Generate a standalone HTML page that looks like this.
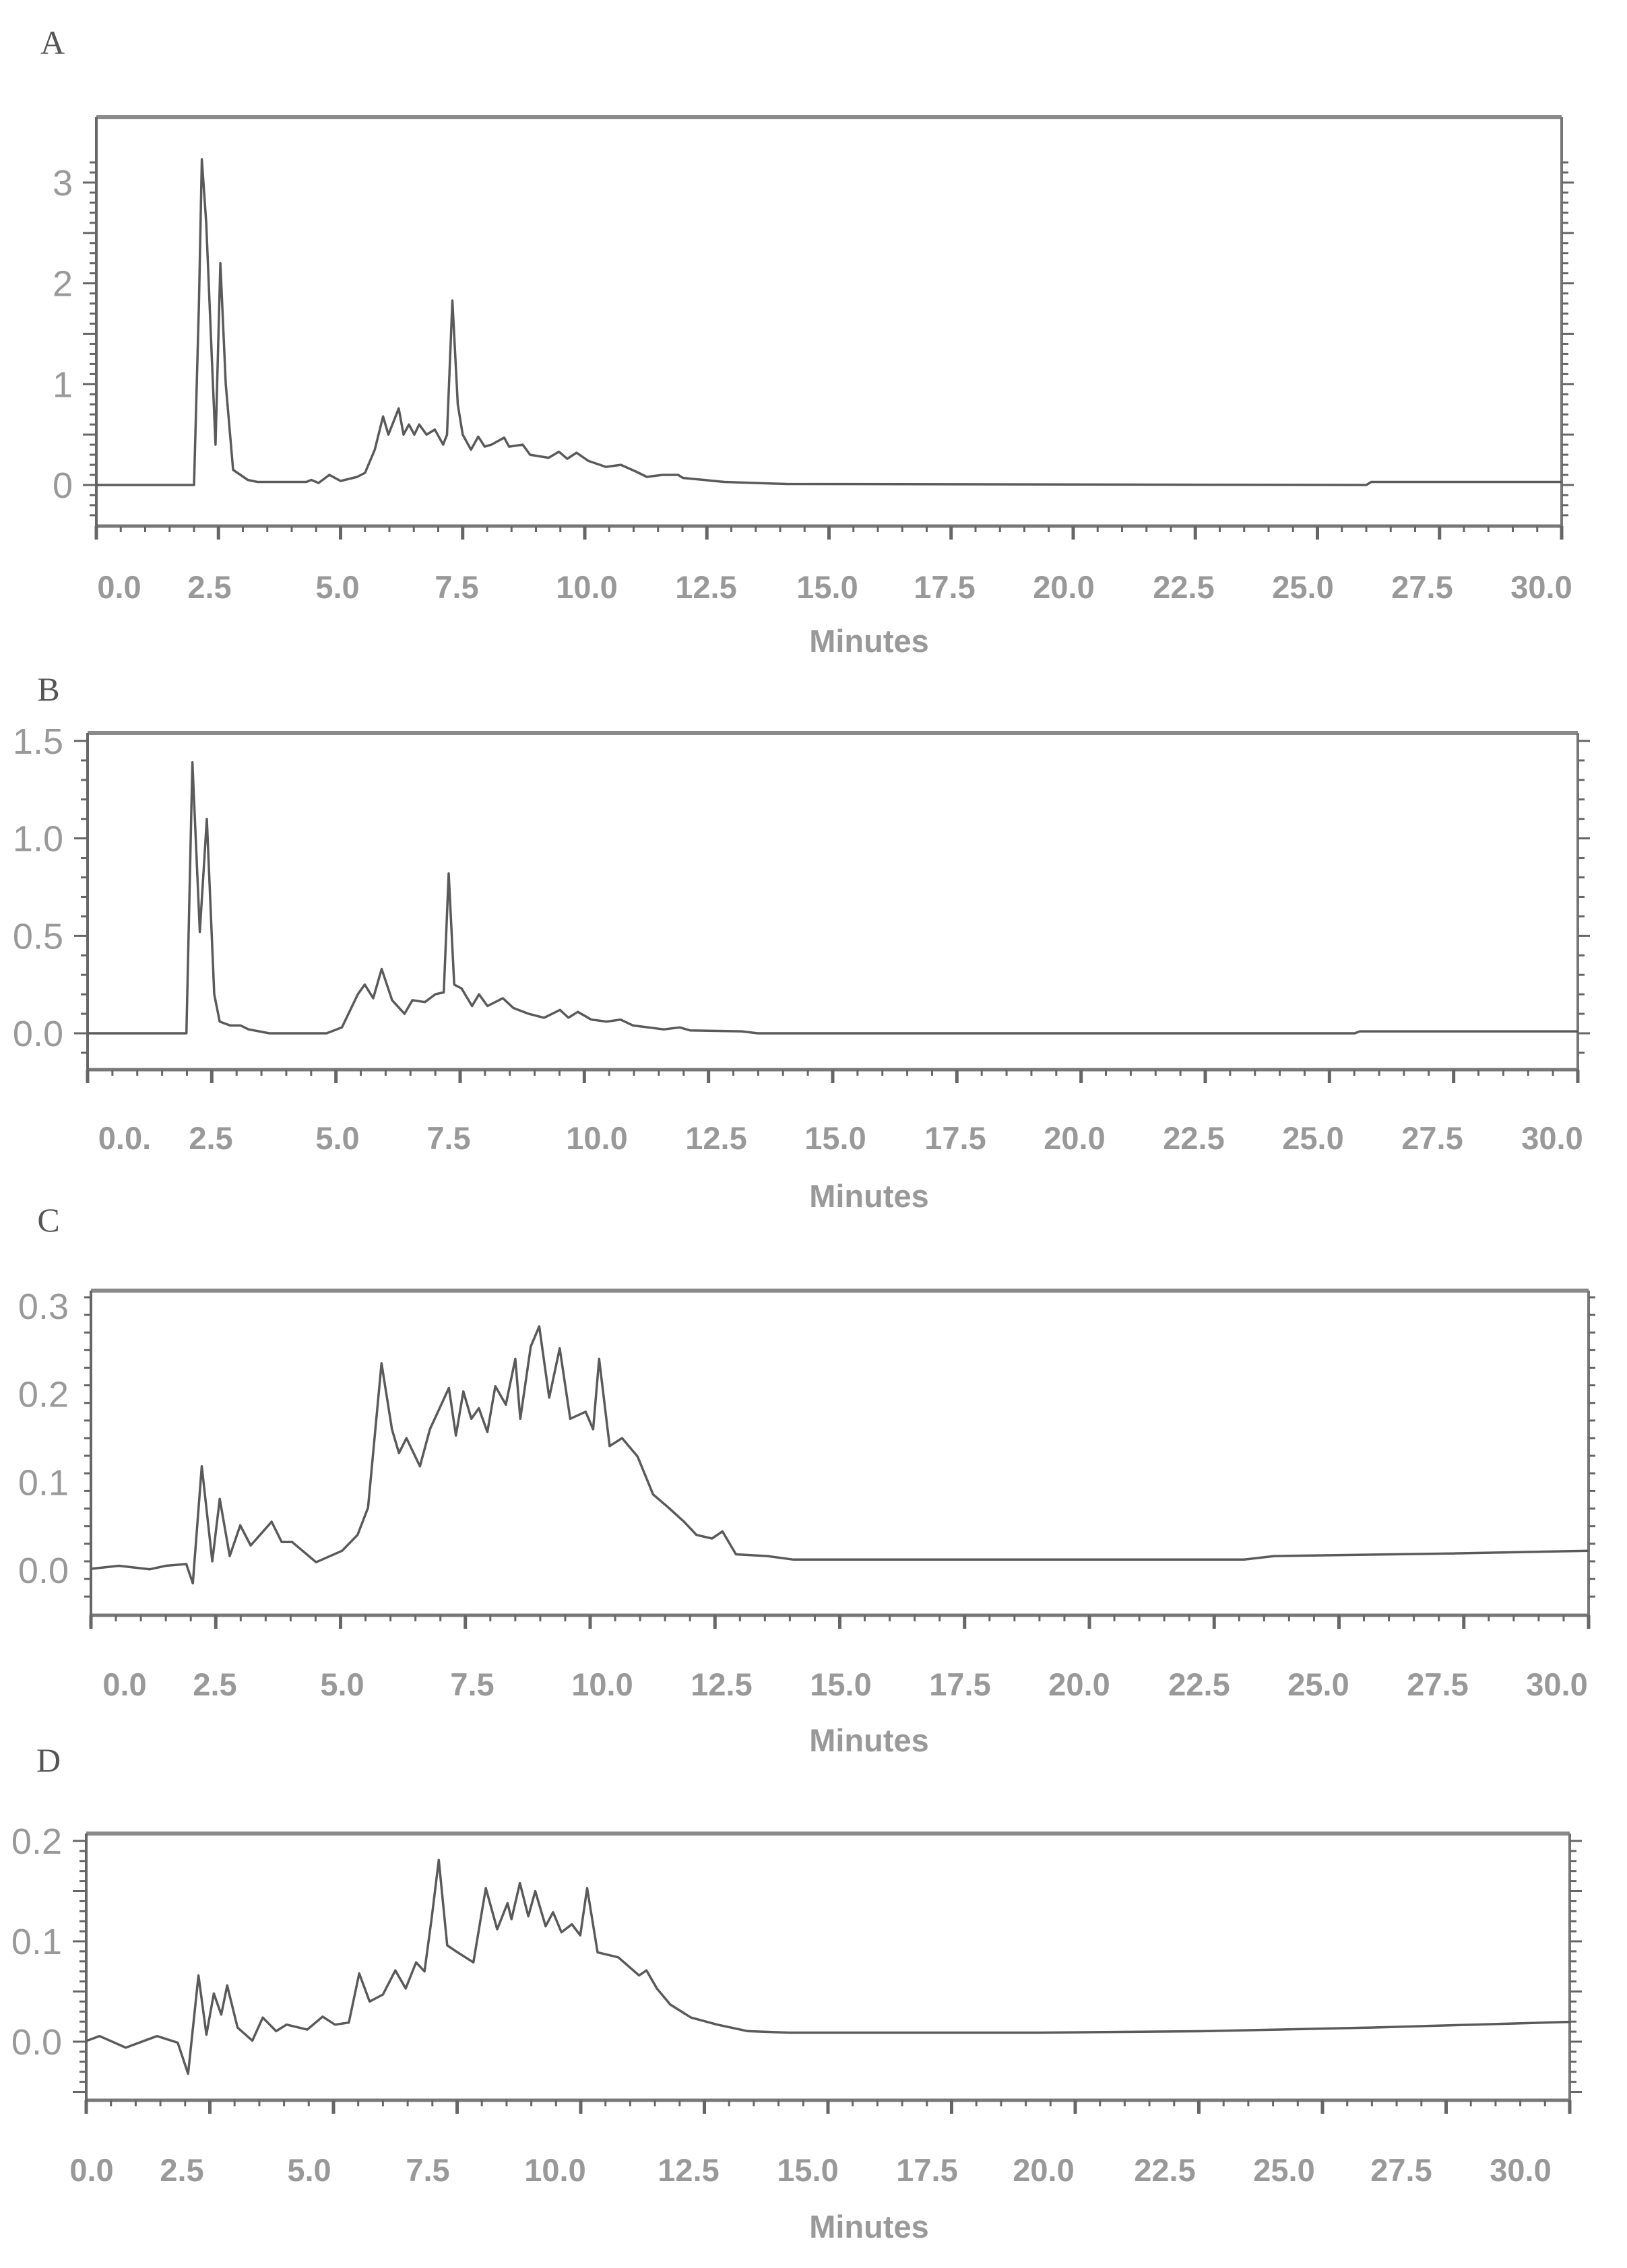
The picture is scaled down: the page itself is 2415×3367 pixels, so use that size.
<!DOCTYPE html>
<html><head><meta charset="utf-8">
<style>
html,body{margin:0;padding:0;background:#fff;}
svg{display:block;}
</style></head>
<body>
<svg id="fig" width="2415" height="3367" viewBox="0 0 2415 3367" xmlns="http://www.w3.org/2000/svg">
<rect width="2415" height="3367" fill="#fff"/>
</svg>
<script>
// ---- Panel A data ----
const aTimes=[0,2.0,2.1,2.16,2.25,2.37,2.44,2.54,2.65,2.8,2.95,3.1,3.3,4.3,4.4,4.55,4.77,5.0,5.34,5.5,5.70,5.87,5.98,6.19,6.29,6.40,6.51,6.61,6.76,6.93,7.10,7.18,7.29,7.40,7.50,7.67,7.82,7.95,8.09,8.35,8.45,8.73,8.88,9.26,9.47,9.64,9.83,10.07,10.43,10.74,11.06,11.27,11.59,11.91,12.01,12.44,12.86,14.13,26.0,26.1,30];
const aValues=[0,0,1.8,3.23,2.6,1.2,0.4,2.2,1.0,0.15,0.1,0.05,0.03,0.03,0.05,0.02,0.1,0.04,0.08,0.12,0.35,0.68,0.5,0.76,0.5,0.6,0.5,0.6,0.5,0.55,0.4,0.5,1.83,0.8,0.5,0.35,0.48,0.38,0.4,0.47,0.38,0.4,0.3,0.27,0.33,0.26,0.32,0.24,0.18,0.2,0.13,0.08,0.1,0.1,0.07,0.05,0.03,0.01,0.0,0.03,0.03];
const aYTicks=[0,1,2,3];
// ---- Panel B data ----
const bTimes=[0,1.99,2.11,2.26,2.40,2.55,2.66,2.87,3.08,3.24,3.66,4.81,5.12,5.44,5.58,5.75,5.92,6.13,6.38,6.54,6.79,7.0,7.17,7.27,7.38,7.53,7.74,7.88,8.05,8.36,8.57,8.88,9.19,9.51,9.68,9.87,10.14,10.45,10.73,10.98,11.60,11.92,12.13,13.17,13.49,25.51,25.61,30];
const bValues=[0,0,1.39,0.52,1.1,0.2,0.06,0.04,0.04,0.02,0,0,0.03,0.2,0.25,0.18,0.33,0.17,0.1,0.17,0.16,0.2,0.21,0.82,0.25,0.23,0.14,0.2,0.14,0.18,0.13,0.1,0.08,0.12,0.08,0.11,0.07,0.06,0.07,0.04,0.02,0.03,0.015,0.01,0,0,0.01,0.01];
const bYTicks=[0,0.5,1.0,1.5];
// ---- Panel C data ----
const cTimes=[0,0.56,1.18,1.50,1.91,2.04,2.22,2.43,2.58,2.78,2.99,3.20,3.62,3.82,4.03,4.51,5.03,5.34,5.55,5.82,6.03,6.17,6.32,6.59,6.79,7.00,7.17,7.31,7.46,7.62,7.77,7.94,8.10,8.31,8.50,8.60,8.81,8.98,9.18,9.39,9.60,9.91,10.06,10.18,10.39,10.64,10.95,11.26,11.57,11.88,12.13,12.44,12.65,12.92,13.55,14.07,14.58,23.1,23.7,27.26,30];
const cValues=[0.0015,0.005,0.001,0.005,0.007,-0.015,0.118,0.01,0.081,0.016,0.051,0.028,0.055,0.032,0.032,0.009,0.022,0.04,0.071,0.235,0.16,0.133,0.15,0.118,0.16,0.186,0.207,0.153,0.203,0.172,0.184,0.157,0.209,0.188,0.24,0.172,0.254,0.277,0.196,0.252,0.172,0.18,0.16,0.24,0.141,0.15,0.129,0.086,0.071,0.055,0.04,0.036,0.044,0.018,0.016,0.012,0.012,0.012,0.016,0.019,0.022];
const cYTicks=[0.0,0.1,0.2,0.3];
// ---- Panel D data ----
const dTimes=[0,0.27,0.80,1.43,1.85,2.06,2.27,2.43,2.58,2.73,2.85,3.06,3.36,3.57,3.84,4.05,4.47,4.78,5.03,5.31,5.52,5.73,6.00,6.25,6.46,6.67,6.84,6.99,7.13,7.30,7.51,7.83,8.08,8.31,8.52,8.60,8.77,8.94,9.08,9.29,9.44,9.61,9.82,9.99,10.13,10.34,10.76,11.18,11.33,11.54,11.81,12.23,12.76,13.38,14.22,19.26,22.62,25.97,28.07,30];
const dValues=[0.0007,0.0056,-0.006,0.0056,-0.001,-0.032,0.066,0.007,0.048,0.027,0.056,0.014,0.001,0.024,0.0105,0.017,0.012,0.025,0.017,0.019,0.068,0.04,0.047,0.071,0.053,0.079,0.07,0.125,0.181,0.096,0.089,0.079,0.153,0.112,0.138,0.122,0.158,0.125,0.15,0.115,0.129,0.109,0.117,0.106,0.153,0.089,0.084,0.066,0.071,0.053,0.037,0.024,0.017,0.0105,0.009,0.009,0.0105,0.014,0.017,0.0197];
const dYTicks=[0.0,0.1,0.2];
const xTickLabels=["0.0","2.5","5.0","7.5","10.0","12.5","15.0","17.5","20.0","22.5","25.0","27.5","30.0"];
const bXTickLabels=["0.0.","2.5","5.0","7.5","10.0","12.5","15.0","17.5","20.0","22.5","25.0","27.5","30.0"];

const NS="http://www.w3.org/2000/svg";
const fig=document.getElementById('fig');
function mk(tag,attrs,parent){const e=document.createElementNS(NS,tag);for(const k in attrs)e.setAttribute(k,attrs[k]);(parent||fig).appendChild(e);return e;}

const panels=[
 {id:'a',letter:'A',lx:78,ly:80,L:143,R:2318,T:174,B:781,y0:720,yTop:3,yTopPx:271,yMin:-0.4,yMinor:0.1,yMajor:0.5,times:aTimes,vals:aValues,yt:aYTicks,ytFmt:v=>v.toFixed(0),xl:xTickLabels,xlPos:[177,311,501,678,871,1048,1228,1402,1579,1757,1934,2111,2288],xlY:871,minY:951,ylX:108},
 {id:'b',letter:'B',lx:72,ly:1040,L:130,R:2342,T:1088,B:1588,y0:1534,yTop:1.5,yTopPx:1100,yMin:-0.2,yMinor:0.1,yMajor:0.5,times:bTimes,vals:bValues,yt:bYTicks,ytFmt:v=>v.toFixed(1),xl:bXTickLabels,xlPos:[185,313,501,666,886,1063,1240,1418,1595,1772,1949,2126,2304],xlY:1689,minY:1775,ylX:94},
 {id:'c',letter:'C',lx:72,ly:1828,L:135,R:2358,T:1916,B:2398,y0:2331,yTop:0.3,yTopPx:1939,yMin:-0.05,yMinor:0.02,yMajor:0.1,times:cTimes,vals:cValues,yt:cYTicks,ytFmt:v=>v.toFixed(1),xl:xTickLabels,xlPos:[185,319,508,701,894,1071,1248,1425,1602,1780,1957,2134,2311],xlY:2500,minY:2583,ylX:102},
 {id:'d',letter:'D',lx:72,ly:2630,L:128,R:2330,T:2722,B:3118,y0:3031,yTop:0.2,yTopPx:2733,yMin:-0.05,yMinor:0.01,yMajor:0.05,times:dTimes,vals:dValues,yt:dYTicks,ytFmt:v=>v.toFixed(1),xl:xTickLabels,xlPos:[136,270,459,635,824,1022,1199,1376,1549,1729,1906,2080,2257],xlY:3221,minY:3305,ylX:92}
];

panels.forEach(p=>{
  const g=mk('g',{});
  
  
  const xs=t=>p.L+(t/30)*(p.R-p.L);
  const ys=v=>p.y0-(v/p.yTop)*(p.y0-p.yTopPx);
  // panel letter
  const lt=mk('text',{x:p.lx,y:p.ly,'font-family':'"Liberation Serif",serif','font-size':50,fill:'#555','text-anchor':'middle'},g);
  lt.textContent=p.letter;
  
  
  // frame
  const fr=mk('g',{},g);
  
  
  mk('line',{x1:p.L,y1:p.T,x2:p.R,y2:p.T,stroke:'#8a8a8a','stroke-width':6},fr);
  mk('line',{x1:p.L,y1:p.B,x2:p.R,y2:p.B,stroke:'#777','stroke-width':5},fr);
  mk('line',{x1:p.L,y1:p.T,x2:p.L,y2:p.B,stroke:'#666','stroke-width':4},fr);
  mk('line',{x1:p.R,y1:p.T,x2:p.R,y2:p.B,stroke:'#777','stroke-width':4},fr);
  // x ticks
  const xt=mk('g',{stroke:'#666','stroke-width':3},g);
  
  
  for(let i=0;i<=60;i++){const t=i*0.5;const x=xs(t);const major=i%5===0;
    mk('line',{x1:x,y1:p.B,x2:x,y2:p.B+(major?20:9),'stroke-width':major?5:3},xt);}
  // y ticks left & right
  const yg=mk('g',{stroke:'#666','stroke-width':3},g);
  
  
  const n=Math.round((p.yTop*1.05-p.yMin)/p.yMinor);
  for(let i=0;i<=n;i++){const v=p.yMin+i*p.yMinor;const y=ys(v);if(y<p.T+4||y>p.B-4)continue;
    const major=Math.abs(v/p.yMajor-Math.round(v/p.yMajor))<1e-6;
    mk('line',{x1:p.L,y1:y,x2:p.L-(major?20:10),y2:y},yg);
    mk('line',{x1:p.R,y1:y,x2:p.R+(major?18:10),y2:y},yg);}
  // y labels
  p.yt.forEach(v=>{const t=mk('text',{x:p.ylX,y:ys(v)+19,'font-family':'"Liberation Sans",sans-serif','font-size':54,fill:'#999','text-anchor':'end'},g);
    t.textContent=p.ytFmt(v);
    
    });
  // x labels
  p.xl.forEach((s,i)=>{const t=mk('text',{x:p.xlPos[i],y:p.xlY+17,'font-family':'"Liberation Sans",sans-serif','font-weight':'bold','font-size':47,fill:'#999','text-anchor':'middle'},g);
    t.textContent=s;
    
    });
  const mt=mk('text',{x:1290,y:p.minY+17,'font-family':'"Liberation Sans",sans-serif','font-weight':'bold','font-size':47,fill:'#999','text-anchor':'middle'},g);
  mt.textContent='Minutes';
  
  
  // trace
  let d='';
  p.times.forEach((t,i)=>{d+=(i?'L':'M')+xs(t).toFixed(1)+' '+ys(p.vals[i]).toFixed(1)+' ';});
  const path=mk('path',{d:d,fill:'none',stroke:'#5a5a5a','stroke-width':3.5,'stroke-linejoin':'round'},g);
  
  
});
</script>
</body></html>
